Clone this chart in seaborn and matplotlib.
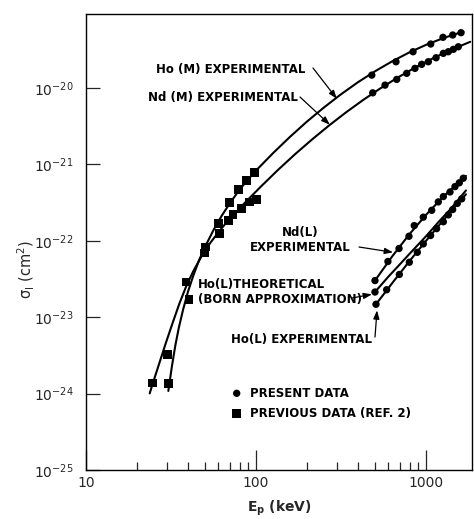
import numpy as np
import matplotlib
matplotlib.use("Agg")
import matplotlib.pyplot as plt
import seaborn as sns
from matplotlib.ticker import FixedLocator, FixedFormatter, NullFormatter, NullLocator

# ---------------- data ----------------
# present data (circles), energies in keV, log10 of cross section in cm^2
ho_m_E = [480, 666, 839, 1066, 1259, 1436, 1607]
ho_m_logS = [-19.83, -19.655, -19.524, -19.423, -19.335, -19.305, -19.275]

nd_m_E = [486, 574, 673, 770, 861, 943, 1032, 1146, 1265, 1353, 1448, 1549]
nd_m_logS = [-20.062, -19.961, -19.886, -19.807, -19.742, -19.689, -19.655,
             -19.603, -19.545, -19.524, -19.493, -19.459]

nd_l_E = [501, 597, 694, 794, 853, 964, 1081, 1181, 1265, 1384, 1481, 1570, 1657]
nd_l_logS = [-22.52, -22.27, -22.10, -21.94, -21.80, -21.69, -21.60, -21.49,
             -21.42, -21.36, -21.29, -21.24, -21.18]

ho_l_E = [508, 587, 697, 798, 889, 964, 1064, 1155, 1265, 1353, 1435, 1528, 1622]
ho_l_logS = [-22.83, -22.64, -22.44, -22.28, -22.15, -22.04, -21.93, -21.84,
             -21.75, -21.66, -21.59, -21.51, -21.45]

# previous data (squares)
ho_m_prev_E = [30.5, 40.4, 50, 60, 69.7, 78.7, 88.2, 97.7]
ho_m_prev_logS = [-23.87, -22.77, -22.16, -21.77, -21.50, -21.33, -21.21, -21.10]
nd_m_prev_E = [24.7, 30.3, 38.7, 50.5, 61, 68.7, 73.3, 82, 92, 101]
nd_m_prev_logS = [-23.86, -23.49, -22.54, -22.08, -21.90, -21.73, -21.655, -21.58, -21.49, -21.46]

# drawn curves
ho_m_curve_E = [30.5, 32.0, 33.5, 35.1, 37.2, 39.8, 42.7, 46.2, 50.1, 56.2, 63.1, 70.8,
                79.4, 89.1, 100, 125.9, 158.5, 199.5, 251.2, 316.2, 398.1, 501.2, 631,
                794.3, 1000, 1259, 1585, 1660]
ho_m_curve_logS = [-23.965, -23.645, -23.375, -23.145, -22.905, -22.665, -22.46, -22.255,
                   -22.08, -21.86, -21.665, -21.495, -21.34, -21.205, -21.08, -20.852,
                   -20.638, -20.438, -20.253, -20.081, -19.923, -19.78, -19.651, -19.535,
                   -19.434, -19.347, -19.274, -19.261]
nd_m_curve_E = [23.7, 24.5, 26.9, 29.5, 32.4, 35.5, 38.9, 42.7, 47.9, 53.7, 60.3, 67.6,
                85.1, 107.2, 134.9, 169.8, 213.8, 269.2, 338.8, 426.6, 537, 676.1, 851.1,
                1071.5, 1349, 1820]
nd_m_curve_logS = [-23.997, -23.892, -23.612, -23.336, -23.068, -22.816, -22.592, -22.40,
                   -22.20, -22.03, -21.883, -21.75, -21.512, -21.286, -21.07, -20.865,
                   -20.672, -20.489, -20.317, -20.156, -20.006, -19.867, -19.739, -19.622,
                   -19.516, -19.394]
nd_l_curve_E = [501, 631, 794, 1000, 1259, 1585, 1718]
nd_l_curve_logS = [-22.52, -22.207, -21.92, -21.66, -21.425, -21.217, -21.15]
ho_l_curve_E = [508, 640, 805, 1014, 1276, 1718]
ho_l_curve_logS = [-22.83, -22.539, -22.257, -21.984, -21.719, -21.39]
theo_E = [501, 600, 700, 800, 1000, 1200, 1400, 1718]
theo_logS = [-22.67, -22.47, -22.31, -22.17, -21.94, -21.74, -21.58, -21.34]

x_ticks = [10, 100, 1000]
x_tick_labels = ["10", "100", "1000"]
y_exponents = [-25, -24, -23, -22, -21, -20]

# ---------------- figure ----------------
sns.set_style("white")
plt.rcParams["font.family"] = ["DejaVu Sans"]
plt.rcParams["mathtext.default"] = "regular"

W, H = 474, 519
fig = plt.figure(figsize=(W / 100, H / 100), dpi=100)
L, R, T, B = 86, 472, 14, 470
ax = fig.add_axes([L / W, 1 - B / H, (R - L) / W, (B - T) / H])
ax.set_xscale("log")
ax.set_yscale("log")

def S(v):
    return 10.0 ** np.asarray(v, dtype=float)

lw = 1.5
for cx, cy in [(ho_m_curve_E, ho_m_curve_logS), (nd_m_curve_E, nd_m_curve_logS),
               (nd_l_curve_E, nd_l_curve_logS), (ho_l_curve_E, ho_l_curve_logS),
               (theo_E, theo_logS)]:
    sns.lineplot(x=cx, y=S(cy), ax=ax, color="black", lw=lw, sort=False,
                 estimator=None)

circ_kw = dict(marker="o", s=28, color="black", edgecolor="none", zorder=5)
sq_kw = dict(marker="s", s=40, color="black", edgecolor="none", zorder=5)
for ex, ey in [(ho_m_E, ho_m_logS), (nd_m_E, nd_m_logS), (nd_l_E, nd_l_logS),
               (ho_l_E, ho_l_logS), (theo_E[:1], theo_logS[:1])]:
    sns.scatterplot(x=ex, y=S(ey), ax=ax, **circ_kw)
for ex, ey in [(ho_m_prev_E, ho_m_prev_logS), (nd_m_prev_E, nd_m_prev_logS)]:
    sns.scatterplot(x=ex, y=S(ey), ax=ax, **sq_kw)

ax.set_xlim(10, 10 ** (1 + (R - L) / 170))
ax.set_ylim(1e-25, 10 ** -19.03)

# ticks
ax.xaxis.set_major_locator(FixedLocator(x_ticks))
ax.xaxis.set_major_formatter(FixedFormatter(x_tick_labels))
minors = [m * d for d in (10, 100) for m in range(2, 10)]
ax.xaxis.set_minor_locator(FixedLocator(minors))
ax.xaxis.set_minor_formatter(NullFormatter())
ax.yaxis.set_major_locator(FixedLocator([10.0 ** e for e in y_exponents]))
ax.yaxis.set_major_formatter(FixedFormatter([r"$10^{%d}$" % e for e in y_exponents]))
ax.yaxis.set_minor_locator(NullLocator())
ax.tick_params(axis="x", which="major", direction="in", length=14.5, width=0.9,
               labelsize=10, pad=4, bottom=True, top=False)
ax.tick_params(axis="x", which="minor", direction="in", length=5.8, width=0.9,
               bottom=True, top=False)
ax.tick_params(axis="y", which="major", direction="in", length=10, width=0.9,
               labelsize=10, pad=9, left=True, right=False)
for sp in ax.spines.values():
    sp.set_color("black")
    sp.set_linewidth(1.0)

ax.set_xlabel(r"E$_\mathbf{p}$ (keV)", fontsize=10, fontweight="bold")
ax.xaxis.set_label_coords(0.5, -0.062)
ax.set_ylabel(r"$\sigma_I$ (cm$^2$)", fontsize=10.5)
ax.yaxis.set_label_coords(-0.128, 0.44)

def axc(px, py):
    return ((px - L) / (R - L), (B - py) / (B - T))

tkw = dict(fontsize=8.5, fontweight="bold", transform=ax.transAxes, color="black")
ax.text(*axc(305, 70), "Ho (M) EXPERIMENTAL", ha="right", va="center", **tkw)
ax.text(*axc(298, 98), "Nd (M) EXPERIMENTAL", ha="right", va="center", **tkw)
ax.text(*axc(300, 240), "Nd(L)\nEXPERIMENTAL", ha="center", va="center",
        linespacing=1.25, **tkw)
ax.text(*axc(198, 292), "Ho(L)THEORETICAL\n(BORN APPROXIMATION)", ha="left",
        va="center", linespacing=1.25, **tkw)
ax.text(*axc(372, 340), "Ho(L) EXPERIMENTAL", ha="right", va="center", **tkw)

akw = dict(arrowstyle="-|>,head_length=0.5,head_width=0.18", lw=0.9, color="black",
           shrinkA=0, shrinkB=0)
arrows = [((313, 68), (299, -20.14)),
          ((300, 97), (272, -20.48)),
          ((359, 247), (640, -22.15)),
          ((352, 298), (481, -22.70)),
          ((375, 337), (515, -22.91))]
for (tx, ty), (ex, ey) in arrows:
    ax.annotate("", xy=(ex, 10.0 ** ey), xycoords="data", xytext=axc(tx, ty),
                textcoords="axes fraction", arrowprops=akw)

# legend
lx, ly1 = axc(236.7, 393.3)
_, ly2 = axc(236.7, 413.3)
ax.scatter([lx], [ly1], transform=ax.transAxes, marker="o", s=28, color="black",
           edgecolor="none")
ax.scatter([lx], [ly2], transform=ax.transAxes, marker="s", s=40, color="black",
           edgecolor="none")
tx0, _ = axc(250, 0)
ax.text(tx0, ly1, "PRESENT DATA", ha="left", va="center", **tkw)
ax.text(tx0, ly2, "PREVIOUS DATA (REF. 2)", ha="left", va="center", **tkw)

fig.savefig("out.png", dpi=100)
